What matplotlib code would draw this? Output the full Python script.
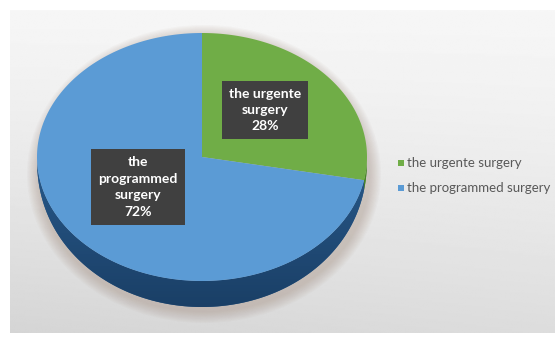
import numpy as np
import matplotlib.pyplot as plt
from matplotlib.patches import Polygon, Ellipse, Rectangle
from matplotlib.colors import LinearSegmentedColormap

# data
categories = ["the urgente surgery", "the programmed surgery"]
values = [28, 72]
box_labels = ["the urgente\nsurgery\n28%", "the\nprogrammed\nsurgery\n72%"]
top_colors = ["#70ad47", "#5b9bd5"]
side_colors = [("#4a8a2a", "#335f1c"), ("#28598a", "#1a3f66")]

W, H = 555, 338
fig = plt.figure(figsize=(W / 100, H / 100), dpi=100)
ax = fig.add_axes([0, 0, 1, 1])
ax.set_xlim(0, W)
ax.set_ylim(H, 0)
ax.axis("off")

# background panel with soft gradient
yy, xx = np.mgrid[0:1:200j, 0:1:300j]
bg = 0.965 - 0.10 * yy ** 1.3 - 0.03 * (1 - xx) * yy
ax.imshow(bg, cmap="gray", vmin=0, vmax=1, extent=(10, W, 333, 10),
          aspect="auto", zorder=0, interpolation="bilinear")

# pie geometry (pixels, y down)
cx, cy, a, b, depth = 202, 157, 165, 124, 26


def pt(t, thick=False):
    t = np.radians(t)
    dy = depth * np.clip(-np.sin(t), 0, 1) ** 0.6 if thick else 0
    return np.column_stack([cx + a * np.cos(t), cy - b * np.sin(t) + dy])


# soft shadow
for i in range(10):
    ax.add_patch(Ellipse((cx + 2, cy + depth / 2 + 4), 2 * (a + 12 - i * 1.2),
                         2 * (b + 12 - i * 1.2) + depth, color="#9a8070",
                         alpha=0.04, lw=0, zorder=1))

fracs = np.array(values) / sum(values)
start = 90.0
angles = []
for f in fracs:
    end = start - f * 360
    angles.append((end, start))
    start = end

# sides (front half only: -180..0)
for (t2, t1), (c1, c2) in zip(angles, side_colors):
    for shift in (0, -360, 360):
        lo, hi = max(t2 + shift, -180), min(t1 + shift, 0)
        if hi <= lo:
            continue
        ts = np.linspace(lo, hi, 120)
        poly = np.vstack([pt(ts), pt(ts[::-1], True)])
        p = Polygon(poly, closed=True, facecolor=c1, edgecolor="none", zorder=2)
        ax.add_patch(p)
        cm = LinearSegmentedColormap.from_list("s", [c1, c2])
        grad = np.linspace(0, 1, 50).reshape(-1, 1)
        im = ax.imshow(grad, cmap=cm, extent=(cx - a - 2, cx + a + 2, cy + b + depth + 2, cy),
                       aspect="auto", zorder=2.1)
        im.set_clip_path(p)

# top wedges
for (t2, t1), col in zip(angles, top_colors):
    ts = np.linspace(t1, t2, 200)
    poly = np.vstack([[cx, cy], pt(ts)])
    ax.add_patch(Polygon(poly, closed=True, facecolor=col, edgecolor="none", zorder=3))

# data label boxes
box_pos = [(265, 110), (138, 187)]
for (x, y), txt in zip(box_pos, box_labels):
    ax.text(x, y, txt, ha="center", va="center", color="white", fontsize=10,
            fontweight="bold", family="Lato", linespacing=1.45, zorder=5,
            bbox=dict(boxstyle="square,pad=0.5", facecolor="#404040", edgecolor="none"))

# legend
leg_y = [163, 188]
for yv, lab, col in zip(leg_y, categories, top_colors):
    ax.add_patch(Rectangle((398, yv - 3), 6, 6, facecolor=col, edgecolor="none", zorder=5))
    ax.text(407, yv, lab, ha="left", va="center", color="#595959", fontsize=9.5,
            family="Lato", zorder=5)

fig.savefig("out.png", dpi=100)
